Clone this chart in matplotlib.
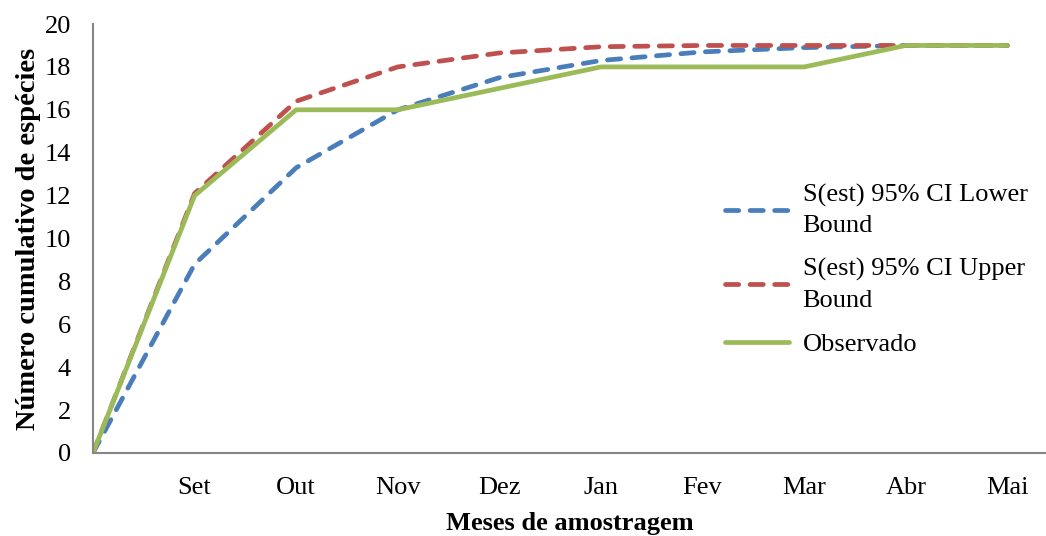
import matplotlib.pyplot as plt

plt.rcParams['font.family'] = ['Liberation Serif', 'DejaVu Serif']

months = ["", "Set", "Out", "Nov", "Dez", "Jan", "Fev", "Mar", "Abr", "Mai"]
lower = [0, 8.8, 13.3, 16.0, 17.5, 18.3, 18.7, 18.9, 19.0, 19.0]
upper = [0, 12.1, 16.4, 18.0, 18.65, 18.94, 19.0, 19.0, 19.0, 19.0]
observed = [0, 12, 16, 16, 17, 18, 18, 18, 19, 19]

fig = plt.figure(figsize=(10.46, 5.36), dpi=100)
ax = fig.add_axes([0.0889, 0.1549, 0.9111, 0.8003])

x = list(range(len(months)))
ax.plot(x, lower, color='#4A7EBB', lw=3.4, linestyle=(0, (2.8, 2.4)),
        dash_capstyle='round', label="S(est) 95% CI Lower\nBound")
ax.plot(x, upper, color='#C0504D', lw=3.4, linestyle=(0, (2.8, 2.4)),
        dash_capstyle='round', label="S(est) 95% CI Upper\nBound")
ax.plot(x, observed, color='#9BBB59', lw=3.4, solid_capstyle='round',
        label="Observado")

ax.set_xlim(0, 9.38)
ax.set_ylim(0, 20)
ax.set_yticks(range(0, 21, 2))
ax.set_xticks(x)
ax.set_xticklabels(months)
ax.tick_params(axis='both', length=0, labelsize=19)
ax.tick_params(axis='x', pad=17)
ax.tick_params(axis='y', pad=16)

for s in ['top', 'right']:
    ax.spines[s].set_visible(False)
for s in ['left', 'bottom']:
    ax.spines[s].set_color('#868686')
    ax.spines[s].set_linewidth(1.5)

ax.set_xlabel("Meses de amostragem", fontsize=19, fontweight='bold', labelpad=10)
ax.set_ylabel("Número cumulativo de espécies", fontsize=20.5, fontweight='bold', labelpad=2)

leg = ax.legend(loc='upper left', bbox_to_anchor=(0.663, 0.628), frameon=False,
                fontsize=19, handlelength=2.45, handletextpad=0.5, labelspacing=0.8,
                borderpad=0, borderaxespad=0)
for t in leg.get_texts():
    t.set_linespacing(1.5)

fig.savefig("out.png", dpi=100)
